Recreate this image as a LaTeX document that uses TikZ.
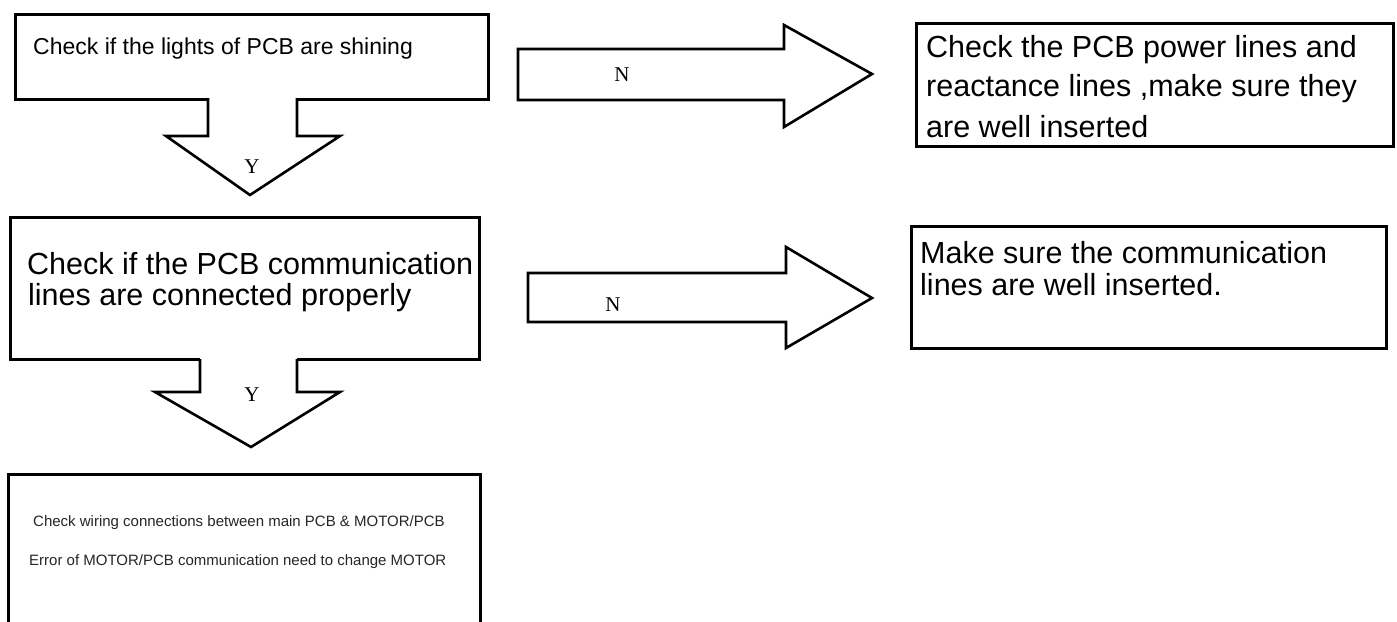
\documentclass[tikz,border=0pt]{standalone}
\usepackage{fontspec}
\setmainfont{Liberation Sans}
\newfontfamily\serifyn{Liberation Serif}
\begin{document}
\begin{tikzpicture}[x=1pt,y=-1pt,
  box/.style={draw=black, line width=2.6pt, fill=white, rectangle, inner sep=0pt, anchor=north west},
  big/.style={font=\fontsize{30.5}{36}\selectfont, anchor=west, inner sep=0pt, align=left},
  small/.style={font=\fontsize{15}{18}\selectfont, anchor=west, inner sep=0pt, text=black!85},
  mid/.style={font=\fontsize{23}{28}\selectfont, anchor=west, inner sep=0pt},
  lbl/.style={font=\serifyn\fontsize{21}{24}\selectfont, inner sep=0pt},
  blk/.style={draw=black, line width=2.6pt, fill=white, line join=miter}
]
\useasboundingbox (0,0) rectangle (1397,621);
\clip (0,0) rectangle (1397,621);

% Boxes
\node[box, minimum width=473, minimum height=85] (b1) at (14,13) {};
\node[box, minimum width=469, minimum height=142] (b2) at (9,216) {};
\node[box, minimum width=472, minimum height=170] (b3) at (7,473) {};
\node[box, minimum width=477, minimum height=123] (b4) at (915,22) {};
\node[box, minimum width=475, minimum height=122] (b5) at (910,225) {};

% Texts
\node[mid] (t1) at (33,49) {Check if the lights of PCB are shining};
\node[big] (t2a) at (27,264) {Check if the PCB communication};
\node[big] (t2b) at (28,298) {lines are connected properly};
\node[small] (t3a) at (33,523) {Check wiring connections between main PCB \& MOTOR/PCB};
\node[small] (t3b) at (29,562) {Error of MOTOR/PCB communication need to change MOTOR};
\node[big] (t4a) at (926,50) {Check the PCB power lines and};
\node[big] (t4b) at (926,89) {reactance lines ,make sure they};
\node[big] (t4c) at (926,127) {are well inserted};
\node[big] (t5a) at (920,253) {Make sure the communication};
\node[big] (t5b) at (920,285) {lines are well inserted.};

% Down arrow 1 (b1 -> b2)
\fill[white] (208,94) -- (208,136) -- (166,136) -- (250,195) -- (340,136) -- (297,136) -- (297,94) -- cycle;
\draw[blk, fill=none] (208,98) -- (208,136) -- (166,136) -- (250,195) -- (340,136) -- (297,136) -- (297,98);
\node[lbl] (y1) at (252,167) {Y};

% Down arrow 2 (b2 -> b3)
\fill[white] (200,355) -- (200,392) -- (155,392) -- (251,447) -- (340,392) -- (297,392) -- (297,355) -- cycle;
\draw[blk, fill=none] (200,359) -- (200,392) -- (155,392) -- (251,447) -- (340,392) -- (297,392) -- (297,359);
\node[lbl] (y2) at (252,395) {Y};

% Right arrow 1 (b1 -> b4)
\draw[blk] (518,49) -- (784,49) -- (784,25) -- (872,74) -- (784,127) -- (784,100) -- (518,100) -- cycle;
\node[lbl] (n1) at (622,75) {N};

% Right arrow 2 (b2 -> b5)
\draw[blk] (528,273) -- (786,273) -- (786,247) -- (872,298) -- (786,348) -- (786,322) -- (528,322) -- cycle;
\node[lbl] (n2) at (613,305) {N};
\end{tikzpicture}
\end{document}
